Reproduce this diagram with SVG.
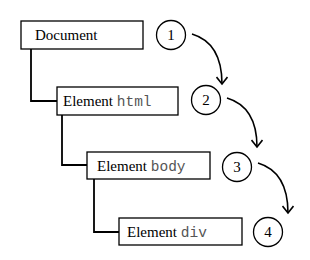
<svg xmlns="http://www.w3.org/2000/svg" width="310" height="260" viewBox="0 0 310 260">
<defs>
<marker id="ah" viewBox="0 0 12 12" refX="9" refY="6" markerWidth="12" markerHeight="12" markerUnits="userSpaceOnUse" orient="auto">
<path d="M2,0.5 L9,6 L2,11.5" fill="none" stroke="#000" stroke-width="1.6"/>
</marker>
</defs>
<style>
.box{fill:#fff;stroke:#000;stroke-width:1.3}
.circ{fill:#fff;stroke:#000;stroke-width:1.3}
.t{font-family:"Liberation Serif","Times New Roman",serif;font-size:15px;fill:#000}
.m{font-family:"Liberation Mono","Courier New",monospace;font-size:14.5px;fill:#555}
.n{font-family:"Liberation Serif","Times New Roman",serif;font-size:15px;fill:#000;text-anchor:middle}
.ln{fill:none;stroke:#000;stroke-width:1.8}
.arr{fill:none;stroke:#000;stroke-width:1.6;marker-end:url(#ah)}
</style>
<rect width="310" height="260" fill="#fff"/>
<g id="connectors">
<path class="ln" d="M31,49 V101 H57"/>
<path class="ln" d="M62,115 V165 H87"/>
<path class="ln" d="M94,179 V232 H119"/>
<path class="arr" d="M192,34 C212,40 222,56 222,84"/>
<path class="arr" d="M227,98 C247,104 257,120 257,147"/>
<path class="arr" d="M258,163 C278,169 288,186 288,213"/>
</g>
<g id="node-document">
<rect class="box" x="21" y="21" width="122" height="28"/>
<text class="t" x="35" y="40">Document</text>
</g>
<g id="node-html">
<rect class="box" x="57" y="87" width="121" height="28"/>
<text x="63" y="106"><tspan class="t">Element </tspan><tspan class="m">html</tspan></text>
</g>
<g id="node-body">
<rect class="box" x="87" y="152" width="123" height="27"/>
<text x="97" y="171"><tspan class="t">Element </tspan><tspan class="m">body</tspan></text>
</g>
<g id="node-div">
<rect class="box" x="119" y="218" width="123" height="27"/>
<text x="127" y="237"><tspan class="t">Element </tspan><tspan class="m">div</tspan></text>
</g>
<g id="step-1"><circle class="circ" cx="171" cy="35" r="14.5"/><text class="n" x="171" y="40">1</text></g>
<g id="step-2"><circle class="circ" cx="206" cy="100" r="14.5"/><text class="n" x="206" y="105">2</text></g>
<g id="step-3"><circle class="circ" cx="237" cy="167" r="14.5"/><text class="n" x="237" y="172">3</text></g>
<g id="step-4"><circle class="circ" cx="268" cy="232" r="14.5"/><text class="n" x="268" y="237">4</text></g>
</svg>
